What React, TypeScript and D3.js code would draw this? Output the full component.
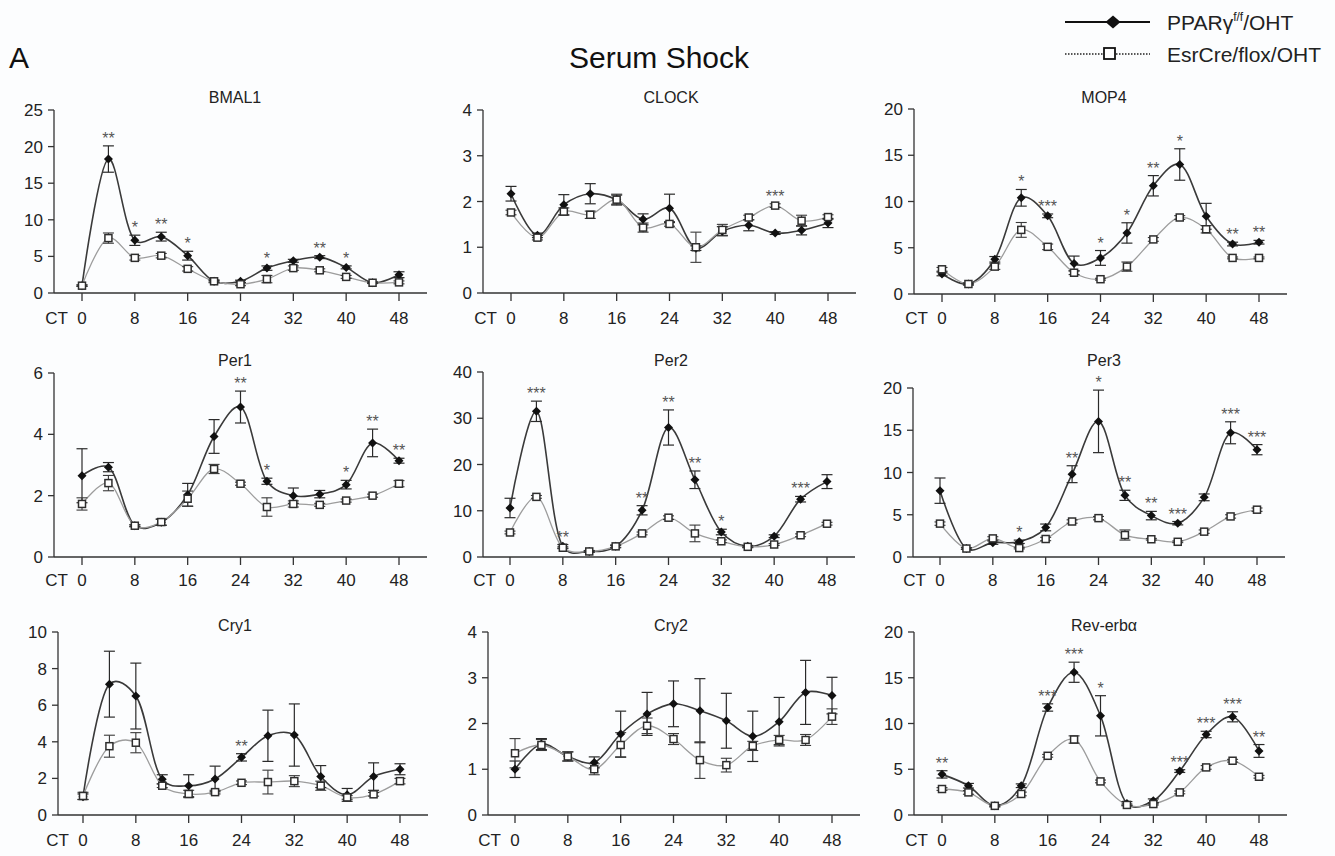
import React from 'react';
import * as d3 from 'd3';

const CT = [0, 4, 8, 12, 16, 20, 24, 28, 32, 36, 40, 44, 48];
const X_TICKS = [0, 8, 16, 24, 32, 40, 48];

const BMAL1_PPAR = [1.0, 18.3, 7.2, 7.7, 5.1, 1.6, 1.6, 3.4, 4.4, 4.9, 3.5, 1.4, 2.5];
const BMAL1_PPAR_ERR = [0.1, 1.8, 0.7, 0.6, 0.6, 0.1, 0.15, 0.3, 0.2, 0.2, 0.2, 0.1, 0.4];
const BMAL1_ESR = [1.0, 7.5, 4.8, 5.1, 3.3, 1.6, 1.2, 1.9, 3.4, 3.1, 2.2, 1.4, 1.45];
const BMAL1_ESR_ERR = [0.1, 0.7, 0.3, 0.3, 0.3, 0.2, 0.2, 0.5, 0.3, 0.2, 0.2, 0.1, 0.2];
const BMAL1_SIG = ['', '**', '*', '**', '*', '', '', '*', '', '**', '*', '', ''];

const CLOCK_PPAR = [2.17, 1.26, 1.93, 2.17, 2.04, 1.61, 1.85, 0.98, 1.35, 1.48, 1.31, 1.37, 1.53];
const CLOCK_PPAR_ERR = [0.16, 0.05, 0.22, 0.22, 0.1, 0.12, 0.31, 0.05, 0.1, 0.12, 0.03, 0.1, 0.1];
const CLOCK_ESR = [1.76, 1.21, 1.78, 1.71, 2.04, 1.43, 1.51, 1.0, 1.38, 1.65, 1.91, 1.58, 1.66];
const CLOCK_ESR_ERR = [0.05, 0.05, 0.08, 0.08, 0.12, 0.1, 0.05, 0.33, 0.12, 0.05, 0.04, 0.12, 0.05];
const CLOCK_SIG = ['', '', '', '', '', '', '', '', '', '', '***', '', ''];

const MOP4_PPAR = [2.17, 1.08, 3.75, 10.4, 8.45, 3.3, 3.9, 6.6, 11.7, 14.0, 8.4, 5.4, 5.6];
const MOP4_PPAR_ERR = [0.2, 0.1, 0.3, 0.9, 0.2, 0.8, 0.8, 1.1, 1.1, 1.7, 1.4, 0.2, 0.2];
const MOP4_ESR = [2.67, 1.08, 2.96, 6.93, 5.1, 2.3, 1.6, 2.96, 5.9, 8.27, 7.0, 3.9, 3.9];
const MOP4_ESR_ERR = [0.2, 0.1, 0.3, 0.8, 0.3, 0.2, 0.1, 0.5, 0.2, 0.2, 0.4, 0.1, 0.1];
const MOP4_SIG = ['', '', '', '*', '***', '', '*', '*', '**', '*', '', '**', '**'];

const PER1_PPAR = [2.65, 2.93, 1.02, 1.13, 2.03, 3.93, 4.89, 2.47, 2.0, 2.05, 2.36, 3.72, 3.14];
const PER1_PPAR_ERR = [0.88, 0.15, 0.03, 0.1, 0.37, 0.55, 0.52, 0.1, 0.25, 0.12, 0.14, 0.45, 0.08];
const PER1_ESR = [1.73, 2.41, 1.02, 1.14, 1.9, 2.87, 2.39, 1.63, 1.73, 1.7, 1.84, 2.0, 2.39];
const PER1_ESR_ERR = [0.2, 0.25, 0.03, 0.1, 0.25, 0.15, 0.05, 0.3, 0.1, 0.05, 0.05, 0.05, 0.1];
const PER1_SIG = ['', '', '', '', '', '', '**', '*', '', '', '*', '**', '**'];

const PER2_PPAR = [10.6, 31.5, 2.3, 1.2, 2.3, 10.1, 28.0, 16.7, 5.4, 2.3, 4.5, 12.5, 16.3];
const PER2_PPAR_ERR = [2.1, 2.2, 0.4, 0.2, 0.3, 1.0, 3.8, 1.9, 0.6, 0.2, 0.3, 0.6, 1.5];
const PER2_ESR = [5.3, 13.0, 2.0, 1.2, 2.3, 5.1, 8.5, 5.1, 3.4, 2.2, 2.7, 4.7, 7.2];
const PER2_ESR_ERR = [0.3, 0.3, 0.2, 0.1, 0.2, 0.3, 0.4, 1.8, 0.3, 0.2, 0.2, 0.3, 0.3];
const PER2_SIG = ['', '***', '**', '', '', '**', '**', '**', '*', '', '', '***', ''];

const PER3_PPAR = [7.85, 1.0, 1.7, 1.8, 3.5, 9.8, 16.05, 7.3, 4.9, 4.0, 7.06, 14.7, 12.7];
const PER3_PPAR_ERR = [1.5, 0.1, 0.2, 0.2, 0.4, 1.0, 3.7, 0.6, 0.5, 0.2, 0.4, 1.3, 0.6];
const PER3_ESR = [3.95, 1.0, 2.2, 1.06, 2.13, 4.2, 4.6, 2.6, 2.1, 1.8, 3.0, 4.8, 5.6];
const PER3_ESR_ERR = [0.2, 0.1, 0.2, 0.1, 0.2, 0.2, 0.2, 0.6, 0.1, 0.1, 0.2, 0.2, 0.2];
const PER3_SIG = ['', '', '', '*', '', '**', '*', '**', '**', '***', '', '***', '***'];

const CRY1_PPAR = [1.0, 7.15, 6.5, 1.95, 1.6, 1.97, 3.15, 4.33, 4.37, 2.1, 1.1, 2.1, 2.5];
const CRY1_PPAR_ERR = [0.15, 1.8, 1.8, 0.25, 0.6, 0.7, 0.2, 1.4, 1.7, 0.6, 0.35, 0.75, 0.3];
const CRY1_ESR = [1.04, 3.76, 3.95, 1.6, 1.15, 1.25, 1.76, 1.8, 1.85, 1.6, 0.96, 1.13, 1.85];
const CRY1_ESR_ERR = [0.2, 0.6, 0.55, 0.1, 0.2, 0.1, 0.1, 0.65, 0.3, 0.25, 0.1, 0.1, 0.15];
const CRY1_SIG = ['', '', '', '', '', '', '**', '', '', '', '', '', ''];

const CRY2_PPAR = [1.0, 1.55, 1.28, 1.15, 1.77, 2.21, 2.43, 2.28, 2.06, 1.72, 2.04, 2.68, 2.61];
const CRY2_PPAR_ERR = [0.18, 0.12, 0.1, 0.12, 0.5, 0.47, 0.5, 0.7, 0.6, 0.55, 0.53, 0.7, 0.4];
const CRY2_ESR = [1.35, 1.53, 1.28, 1.0, 1.53, 1.95, 1.66, 1.2, 1.09, 1.51, 1.64, 1.64, 2.15];
const CRY2_ESR_ERR = [0.32, 0.12, 0.1, 0.12, 0.27, 0.17, 0.12, 0.4, 0.15, 0.1, 0.1, 0.12, 0.17];
const CRY2_SIG = ['', '', '', '', '', '', '', '', '', '', '', '', ''];

const REV_PPAR = [4.44, 3.2, 1.0, 3.2, 11.75, 15.6, 10.84, 1.27, 1.56, 4.8, 8.8, 10.73, 7.0];
const REV_PPAR_ERR = [0.4, 0.25, 0.1, 0.2, 0.4, 1.1, 2.2, 0.2, 0.2, 0.15, 0.35, 0.55, 0.7];
const REV_ESR = [2.84, 2.47, 1.0, 2.3, 6.47, 8.25, 3.67, 1.1, 1.2, 2.47, 5.2, 5.93, 4.18];
const REV_ESR_ERR = [0.15, 0.2, 0.1, 0.2, 0.15, 0.4, 0.15, 0.1, 0.1, 0.15, 0.2, 0.15, 0.15];
const REV_SIG = ['**', '', '', '', '***', '***', '*', '', '', '***', '***', '***', '**'];

const GENES = [
  { title: 'BMAL1', max: 25, step: 5, ppar: BMAL1_PPAR, pErr: BMAL1_PPAR_ERR, esr: BMAL1_ESR, eErr: BMAL1_ESR_ERR, sig: BMAL1_SIG },
  { title: 'CLOCK', max: 4, step: 1, ppar: CLOCK_PPAR, pErr: CLOCK_PPAR_ERR, esr: CLOCK_ESR, eErr: CLOCK_ESR_ERR, sig: CLOCK_SIG },
  { title: 'MOP4', max: 20, step: 5, ppar: MOP4_PPAR, pErr: MOP4_PPAR_ERR, esr: MOP4_ESR, eErr: MOP4_ESR_ERR, sig: MOP4_SIG },
  { title: 'Per1', max: 6, step: 2, ppar: PER1_PPAR, pErr: PER1_PPAR_ERR, esr: PER1_ESR, eErr: PER1_ESR_ERR, sig: PER1_SIG },
  { title: 'Per2', max: 40, step: 10, ppar: PER2_PPAR, pErr: PER2_PPAR_ERR, esr: PER2_ESR, eErr: PER2_ESR_ERR, sig: PER2_SIG },
  { title: 'Per3', max: 20, step: 5, ppar: PER3_PPAR, pErr: PER3_PPAR_ERR, esr: PER3_ESR, eErr: PER3_ESR_ERR, sig: PER3_SIG },
  { title: 'Cry1', max: 10, step: 2, ppar: CRY1_PPAR, pErr: CRY1_PPAR_ERR, esr: CRY1_ESR, eErr: CRY1_ESR_ERR, sig: CRY1_SIG },
  { title: 'Cry2', max: 4, step: 1, ppar: CRY2_PPAR, pErr: CRY2_PPAR_ERR, esr: CRY2_ESR, eErr: CRY2_ESR_ERR, sig: CRY2_SIG },
  { title: 'Rev-erbα', max: 20, step: 5, ppar: REV_PPAR, pErr: REV_PPAR_ERR, esr: REV_ESR, eErr: REV_ESR_ERR, sig: REV_SIG },
];

// layout: y-axis x, top of y-axis, zero line, offset of CT0 from the axis, title centre x, title baseline, x label baseline
const LAYOUT = [
  { ax: 54, top: 110, bot: 293, off: 28, tx: 235, ty: 103, ly: 324 },
  { ax: 483, top: 110, bot: 293, off: 28, tx: 671, ty: 103, ly: 324 },
  { ax: 914, top: 109, bot: 294, off: 28, tx: 1104, ty: 103, ly: 324 },
  { ax: 54, top: 373, bot: 557, off: 28, tx: 235, ty: 366, ly: 586 },
  { ax: 483, top: 372, bot: 557, off: 27, tx: 671, ty: 366, ly: 586 },
  { ax: 913, top: 388, bot: 557, off: 27, tx: 1104, ty: 366, ly: 586 },
  { ax: 58, top: 632, bot: 815, off: 25, tx: 235, ty: 631, ly: 846 },
  { ax: 488, top: 632, bot: 815, off: 27, tx: 671, ty: 631, ly: 846 },
  { ax: 914, top: 632, bot: 815, off: 28, tx: 1104, ty: 631, ly: 846 },
];

const FONT = '"Liberation Sans", Arial, Helvetica, sans-serif';
const AXIS = '#333';
const PPAR_LINE = '#3a3a3a';
const ESR_LINE = '#9d9d9d';

function diamondPath(cx: number, cy: number, w: number, h: number) {
  return `M${cx},${cy - h / 2}L${cx + w / 2},${cy}L${cx},${cy + h / 2}L${cx - w / 2},${cy}Z`;
}

function Panel({ g, l }: { g: any; l: any }) {
  const x = d3.scaleLinear().domain([0, 48]).range([l.ax + l.off, l.ax + l.off + 317]);
  const y = d3.scaleLinear().domain([0, g.max]).range([l.bot, l.top]);
  const yTicks = d3.range(0, g.max + g.step / 2, g.step);
  const line = d3
    .line<number>()
    .x((_, i) => x(CT[i]))
    .y((v) => y(v))
    .curve(d3.curveCatmullRom.alpha(0.3));
  const axisEnd = l.ax + l.off + 345;

  const errBars = (vals: number[], errs: number[], color: string, w: number) =>
    vals.map((v, i) => {
      const e = errs[i];
      if (e <= 0) return null;
      const cx = x(CT[i]);
      const y1 = y(v + e);
      const y2 = y(Math.max(0, v - e));
      return (
        <g key={i} stroke={color} strokeWidth={w} fill="none">
          <line x1={cx} x2={cx} y1={y1} y2={y2} />
          <line x1={cx - 5.5} x2={cx + 5.5} y1={y1} y2={y1} />
          <line x1={cx - 5.5} x2={cx + 5.5} y1={y2} y2={y2} />
        </g>
      );
    });

  return (
    <g>
      <text x={l.tx} y={l.ty} textAnchor="middle" fontSize={16} fill="#222">
        {g.title}
      </text>
      {/* y axis */}
      <line x1={l.ax} x2={l.ax} y1={l.top} y2={l.bot} stroke={AXIS} strokeWidth={1.3} />
      {yTicks.map((t: number) => (
        <g key={t}>
          <line x1={l.ax - 6} x2={l.ax} y1={y(t)} y2={y(t)} stroke={AXIS} strokeWidth={1.3} />
          <text x={l.ax - 11} y={y(t) + 6} textAnchor="end" fontSize={17} fill="#222">
            {t}
          </text>
        </g>
      ))}
      {/* x axis */}
      <line x1={l.ax} x2={axisEnd} y1={l.bot} y2={l.bot} stroke={AXIS} strokeWidth={1.3} />
      {X_TICKS.map((t) => (
        <g key={t}>
          <line x1={x(t)} x2={x(t)} y1={l.bot} y2={l.bot + 8} stroke={AXIS} strokeWidth={1.3} />
          <text x={x(t)} y={l.ly} textAnchor="middle" fontSize={17} fill="#222">
            {t}
          </text>
        </g>
      ))}
      <text x={x(0) - 14} y={l.ly} textAnchor="end" fontSize={17} fill="#222">
        CT
      </text>
      {/* series */}
      <path d={line(g.ppar) || ''} fill="none" stroke={PPAR_LINE} strokeWidth={1.6} />
      <path d={line(g.esr) || ''} fill="none" stroke={ESR_LINE} strokeWidth={1.3} />
      {errBars(g.ppar, g.pErr, '#2a2a2a', 1.2)}
      {errBars(g.esr, g.eErr, '#3a3a3a', 1.1)}
      {g.ppar.map((v: number, i: number) => (
        <path key={'p' + i} d={diamondPath(x(CT[i]), y(v), 9, 9)} fill="#111" />
      ))}
      {g.esr.map((v: number, i: number) => (
        <rect
          key={'e' + i}
          x={x(CT[i]) - 3.5}
          y={y(v) - 3.5}
          width={7}
          height={7}
          fill="#fff"
          stroke="#2e2e2e"
          strokeWidth={1.5}
        />
      ))}
      {g.sig.map((s: string, i: number) => {
        if (!s) return null;
        const top = Math.min(y(g.ppar[i] + g.pErr[i]), y(g.esr[i] + g.eErr[i]));
        return (
          <text key={'s' + i} x={x(CT[i])} y={top - 2} textAnchor="middle" fontSize={16} fill="#555">
            {s}
          </text>
        );
      })}
    </g>
  );
}

export default function App() {
  return (
    <svg
      width={1335}
      height={856}
      style={{ position: 'absolute', left: 0, top: 0, background: '#fcfdfe' }}
      fontFamily={FONT}
    >
      <rect x={0} y={0} width={1335} height={856} fill="#fcfdfe" />
      <text x={9} y={68} fontSize={30} fill="#111">
        A
      </text>
      <text x={659} y={68} textAnchor="middle" fontSize={30} fill="#111">
        Serum Shock
      </text>
      {/* legend */}
      <line x1={1065} x2={1150} y1={22} y2={22} stroke="#111" strokeWidth={1.8} />
      <path d={diamondPath(1113, 22, 15, 13)} fill="#111" />
      <text x={1167} y={30} fontSize={21} fill="#222">
        PPARγ
        <tspan fontSize={12} dy={-9}>
          f/f
        </tspan>
        <tspan dy={9}>/OHT</tspan>
      </text>
      <line x1={1065} x2={1150} y1={54} y2={54} stroke="#222" strokeWidth={1.5} strokeDasharray="1.5,1.5" />
      <rect x={1104} y={48} width={11} height={11} fill="#fff" stroke="#111" strokeWidth={1.8} />
      <text x={1167} y={62} fontSize={21} fill="#222">
        EsrCre/flox/OHT
      </text>
      {GENES.map((g, i) => (
        <Panel key={g.title} g={g} l={LAYOUT[i]} />
      ))}
    </svg>
  );
}
